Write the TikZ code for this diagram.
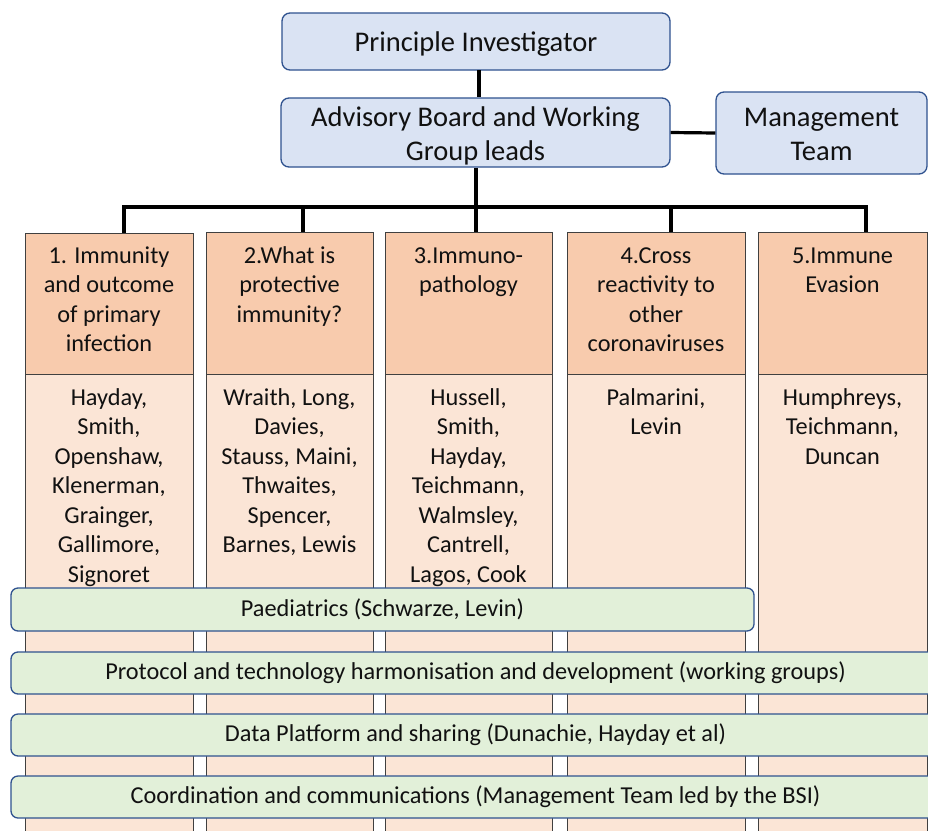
\documentclass[tikz,border=0pt]{standalone}
\usepackage{fontspec}
\setmainfont{Carlito}
\definecolor{bluefill}{HTML}{DAE3F3}
\definecolor{blueline}{HTML}{2F528F}
\definecolor{greenfill}{HTML}{E2F0D9}
\definecolor{headfill}{HTML}{F8CBAD}
\definecolor{bodyfill}{HTML}{FBE5D6}
\definecolor{boxline}{HTML}{404040}
\definecolor{txt}{HTML}{111111}
\newcommand{\firststrut}{\rule{0pt}{18pt}}
\begin{document}
\begin{tikzpicture}[x=1pt,y=-1pt,
  topbox/.style={draw=blueline, fill=bluefill, line width=1.3pt, rounded corners=8pt, inner sep=0pt},
  toptext/.style={align=center, inner sep=0pt, text=txt, font=\fontsize{28.5}{34}\selectfont},
  band/.style={draw=blueline, fill=greenfill, line width=1.3pt, rounded corners=7pt, inner sep=0pt, text=txt, font=\fontsize{24.3}{28}\selectfont},
  headbox/.style={draw=boxline, fill=headfill, line width=0.8pt, inner sep=0pt},
  bodybox/.style={draw=boxline, fill=bodyfill, line width=0.8pt, inner sep=0pt},
  coltext/.style={anchor=north, align=center, inner sep=0pt, text=txt, font=\fontsize{24.3}{29.5}\selectfont},
  conn/.style={line width=3.2pt, black}]
\useasboundingbox (0,0) rectangle (928,830);
\clip (0,0) rectangle (928,830);
\fill[white] (0,0) rectangle (928,830);

% top boxes
\node[topbox, minimum width=388pt, minimum height=57pt] (pi) at (476,41.5) {};
\node[toptext] (pit) at (476,44) {Principle Investigator};
\node[topbox, minimum width=389pt, minimum height=69pt] (adv) at (475.5,132.5) {};
\node[toptext] (advt) at (475.5,136) {Advisory Board and Working\\Group leads};
\node[topbox, minimum width=211pt, minimum height=82pt] (mgmt) at (821.5,133) {};
\node[toptext] (mgmtt) at (821.5,134.5) {Management\\Team};

% column headers and bodies
\node[headbox, minimum width=168pt, minimum height=141pt] (h1) at (109,303.5) {};
\node[headbox, minimum width=167pt, minimum height=142pt] (h2) at (289.5,303) {};
\node[headbox, minimum width=167pt, minimum height=142pt] (h3) at (468.5,303) {};
\node[headbox, minimum width=178pt, minimum height=142pt] (h4) at (656,303) {};
\node[headbox, minimum width=169pt, minimum height=142pt] (h5) at (842.5,303) {};

\node[bodybox, minimum width=168pt, minimum height=470pt] (c1) at (109,609) {};
\node[bodybox, minimum width=167pt, minimum height=470pt] (c2) at (289.5,609) {};
\node[bodybox, minimum width=167pt, minimum height=470pt] (c3) at (468.5,609) {};
\node[bodybox, minimum width=178pt, minimum height=470pt] (c4) at (656,609) {};
\node[bodybox, minimum width=169pt, minimum height=470pt] (c5) at (842.5,609) {};

% header texts (first baseline at y=263)
\node[coltext] (t1) at (109,245) {\firststrut 1. Immunity\\and outcome\\of primary\\infection};
\node[coltext] (t2) at (289.5,245) {\firststrut 2.What is\\protective\\immunity?};
\node[coltext] (t3) at (468.5,245) {\firststrut 3.Immuno-\\pathology};
\node[coltext] (t4) at (656,245) {\firststrut 4.Cross\\reactivity to\\other\\coronaviruses};
\node[coltext] (t5) at (842.5,245) {\firststrut 5.Immune\\Evasion};

% names (first baseline at y=405)
\node[coltext] (n1) at (109,387) {\firststrut Hayday,\\Smith,\\Openshaw,\\Klenerman,\\Grainger,\\Gallimore,\\Signoret};
\node[coltext] (n2) at (289.5,387) {\firststrut Wraith, Long,\\Davies,\\Stauss, Maini,\\Thwaites,\\Spencer,\\Barnes, Lewis};
\node[coltext] (n3) at (468.5,387) {\firststrut Hussell,\\Smith,\\Hayday,\\Teichmann,\\Walmsley,\\Cantrell,\\Lagos, Cook};
\node[coltext] (n4) at (656,387) {\firststrut Palmarini,\\Levin};
\node[coltext] (n5) at (842.5,387) {\firststrut Humphreys,\\Teichmann,\\Duncan};

% bands
\node[band, minimum width=743pt, minimum height=43pt] (b1) at (382.5,609.5) {\raisebox{-1.5pt}{Paediatrics (Schwarze, Levin)}};
\node[band, minimum width=929pt, minimum height=42pt] (b2) at (475.5,673) {Protocol and technology harmonisation and development (working groups)};
\node[band, minimum width=929pt, minimum height=42pt] (b3) at (475.5,735) {Data Platform and sharing (Dunachie, Hayday et al)};
\node[band, minimum width=929pt, minimum height=42pt] (b4) at (475.5,797) {Coordination and communications (Management Team led by the BSI)};

% connectors
\coordinate (pib) at (479,70);
\draw[conn] (pib) -- (pib |- adv.north);
\draw[conn] (adv.east) -- (mgmt.west);
\coordinate (bus) at (476,207);
\coordinate (d1) at (124,207);
\coordinate (d2) at (303,207);
\coordinate (d3) at (476,207);
\coordinate (d4) at (671,207);
\coordinate (d5) at (866,207);
\draw[conn] (bus |- adv.south) -- (bus);
\draw[conn, line cap=rect] (d1) -- (d5);
\draw[conn] (d1) -- (d1 |- h1.north);
\draw[conn] (d2) -- (d2 |- h2.north);
\draw[conn] (d3) -- (d3 |- h3.north);
\draw[conn] (d4) -- (d4 |- h4.north);
\draw[conn] (d5) -- (d5 |- h5.north);
\end{tikzpicture}
\end{document}
